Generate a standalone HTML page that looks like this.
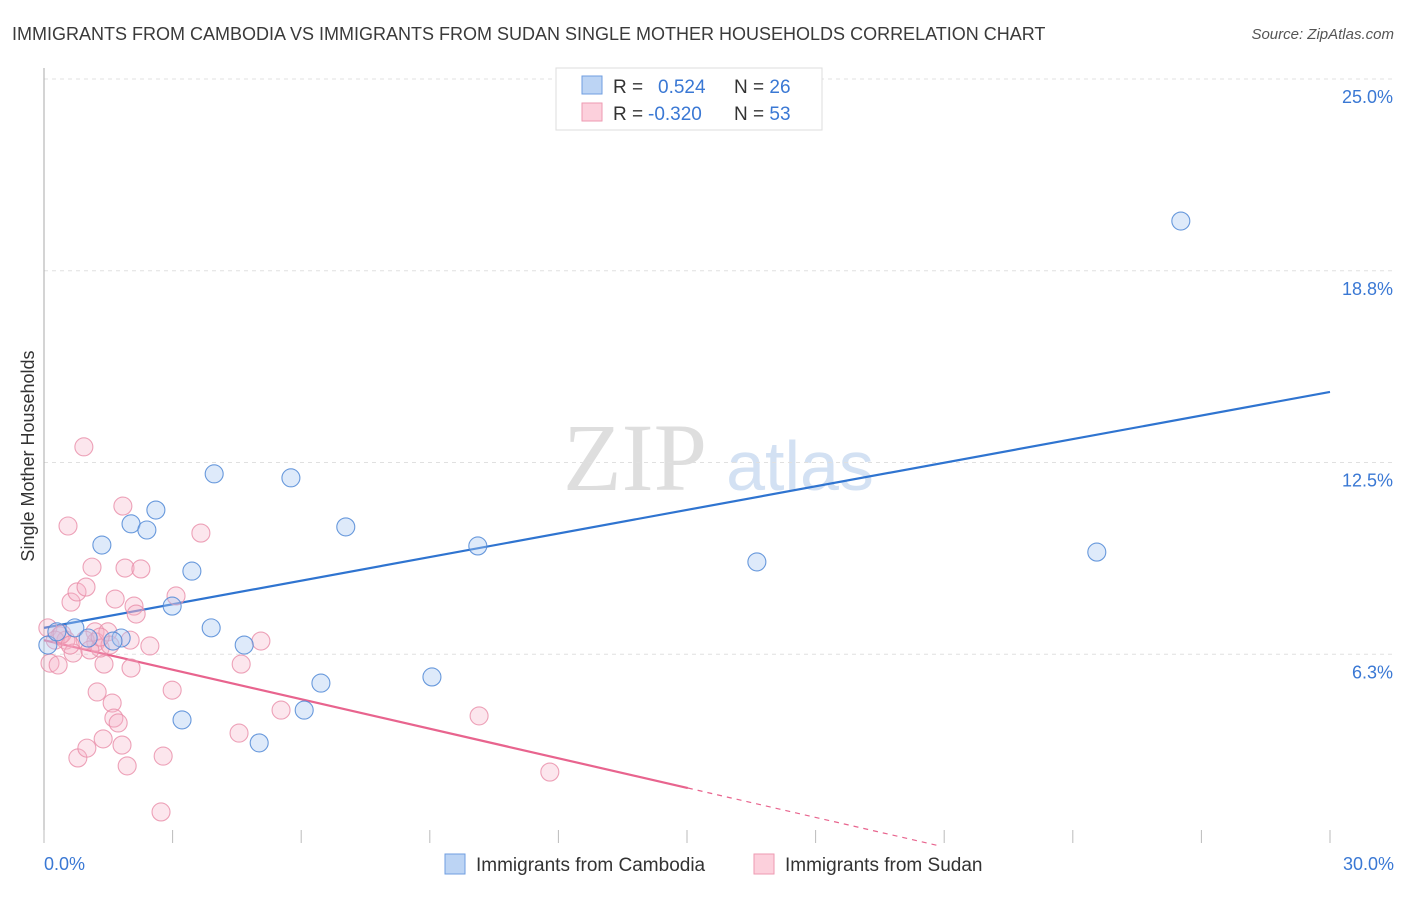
<!DOCTYPE html>
<html><head><meta charset="utf-8"><style>
body{margin:0;background:#fff;font-family:"Liberation Sans",sans-serif;}
</style></head><body>
<svg width="1406" height="892" xmlns="http://www.w3.org/2000/svg" font-family="Liberation Sans, sans-serif">
<text x="12" y="40" font-size="18" fill="#3a3a3a">IMMIGRANTS FROM CAMBODIA VS IMMIGRANTS FROM SUDAN SINGLE MOTHER HOUSEHOLDS CORRELATION CHART</text>
<text x="1394" y="39" font-size="15" fill="#555" font-style="italic" text-anchor="end">Source: ZipAtlas.com</text>
<g><text x="635" y="490" font-size="96" fill="#dedede" font-family="Liberation Serif, serif" text-anchor="middle">ZIP</text><text x="800" y="490" font-size="70" fill="#d3e1f3" text-anchor="middle">atlas</text></g>
<g id="grid"></g><g id="axes"></g><g id="lines"></g><g id="pts"></g>
<text transform="translate(34,456) rotate(-90)" font-size="18" fill="#333" text-anchor="middle">Single Mother Households</text>
<text x="44" y="870" font-size="18" fill="#3a78d4">0.0%</text>
<text x="1394" y="870" font-size="18" fill="#3a78d4" text-anchor="end">30.0%</text>
<g>
<rect x="556" y="68" width="266" height="62" fill="#fff" stroke="#ddd"/>
<rect x="582" y="76" width="20" height="18" fill="#bcd4f4" stroke="#6f9ee0"/>
<rect x="582" y="103" width="20" height="18" fill="#fcd0dc" stroke="#ee9ab2"/>
<text x="613" y="93" font-size="19" fill="#333">R = <tspan x="658" fill="#3a78d4">0.524</tspan><tspan x="734">N = </tspan><tspan fill="#3a78d4">26</tspan></text>
<text x="613" y="120" font-size="19" fill="#333">R = <tspan x="648" fill="#3a78d4">-0.320</tspan><tspan x="734">N = </tspan><tspan fill="#3a78d4">53</tspan></text>
</g>
<g>
<rect x="445" y="854" width="20" height="20" fill="#bcd4f4" stroke="#6f9ee0"/>
<text x="476" y="871" font-size="19" fill="#333">Immigrants from Cambodia</text>
<rect x="754" y="854" width="20" height="20" fill="#fcd0dc" stroke="#ee9ab2"/>
<text x="785" y="871" font-size="19" fill="#333">Immigrants from Sudan</text>
</g>
</svg>
<script>
const yTicks=[6.25,12.5,18.75,25];
const yTickLabels=["6.3%","12.5%","18.8%","25.0%"];
const xTicks=[0,3,6,9,12,15,18,21,24,27,30];
const blueX=[0.09,0.30,0.72,1.35,1.80,2.03,2.40,2.61,2.99,3.22,3.45,3.90,3.97,4.67,5.02,5.76,6.07,6.46,7.04,9.05,10.12,16.63,24.56,26.52,1.61,1.03];
const blueY=[6.55,6.98,7.11,9.81,6.78,10.50,10.30,10.95,7.82,4.11,8.96,7.11,12.13,6.55,3.36,12.00,4.43,5.31,10.40,5.51,9.78,9.26,9.58,20.37,6.68,6.78];
const pinkX=[0.09,0.14,0.33,0.37,0.51,0.56,0.63,0.68,0.77,0.79,0.93,0.98,1.00,1.12,1.19,1.21,1.24,1.38,1.40,1.49,1.59,1.63,1.66,1.73,1.82,1.84,1.89,1.94,2.03,2.10,2.15,2.26,2.47,2.78,2.99,3.08,3.66,4.55,4.60,5.06,5.53,10.15,11.80,2.73,0.96,1.31,1.54,0.26,0.42,1.07,1.31,2.01,0.61];
const pinkY=[7.11,5.96,5.90,6.85,6.71,10.43,7.95,6.29,8.28,2.87,13.01,8.44,3.19,9.09,6.98,6.65,5.02,3.49,5.93,6.98,4.66,4.17,8.05,4.01,3.29,11.08,9.06,2.61,5.80,7.82,7.56,9.03,6.52,2.93,5.08,8.15,10.20,3.68,5.93,6.68,4.43,4.24,2.41,1.11,6.71,6.45,6.55,6.71,6.91,6.39,6.81,6.71,6.55];
const blueTrend=[[0,7.11],[30,14.80]];
const pinkTrend=[[0,6.71],[15.02,1.89]];
const pinkTrendExt=[[15.02,1.89],[20.9,0]];
const NS="http://www.w3.org/2000/svg";
const sx=v=>44+v/30*1286, sy=v=>846-v/25*767;
function mk(t,a,p){const e=document.createElementNS(NS,t);for(const k in a)e.setAttribute(k,a[k]);p.appendChild(e);return e;}
const grid=document.getElementById('grid'),axes=document.getElementById('axes'),lines=document.getElementById('lines'),pts=document.getElementById('pts');
yTicks.forEach((t,i)=>{
 const l=mk('line',{x1:44,x2:1394,y1:sy(t),y2:sy(t),stroke:'#e0e0e0','stroke-dasharray':'4,4'},grid);
 
 
 const tx=mk('text',{x:1393,y:sy(t)+24,'font-size':18,fill:'#3a78d4','text-anchor':'end'},grid);
 tx.textContent=yTickLabels[i];
 
 
});
const ya=mk('line',{x1:44,x2:44,y1:68,y2:843,stroke:'#aaa'},axes);


xTicks.forEach(t=>{
 const l=mk('line',{x1:sx(t),x2:sx(t),y1:830,y2:843,stroke:'#bbb'},axes);
 
 
});
function seg(tr,c,dash,name){
 const l=mk('line',{x1:sx(tr[0][0]),y1:sy(tr[0][1]),x2:sx(tr[1][0]),y2:sy(tr[1][1]),stroke:c,'stroke-width':dash?1.2:2.2},lines);
 if(dash)l.setAttribute('stroke-dasharray','5,5');
 
 
}
function dots(X,Y,f,s,name){
 X.forEach((x,i)=>{
  const c=mk('circle',{cx:sx(x),cy:sy(Y[i]),r:9,fill:f,stroke:s,'stroke-width':1.1},pts);
  
  
 });
}
dots(pinkX,pinkY,'rgba(246,176,198,0.32)','rgba(232,140,168,0.8)','sudan-point');
dots(blueX,blueY,'rgba(168,200,242,0.38)','rgba(80,136,214,0.85)','cambodia-point');
seg(blueTrend,'#2f74d0',false,'cambodia-trend-line');
seg(pinkTrend,'#e8648e',false,'sudan-trend-line');
seg(pinkTrendExt,'#e8648e',true,'sudan-trend-extension');
</script>
</body></html>
